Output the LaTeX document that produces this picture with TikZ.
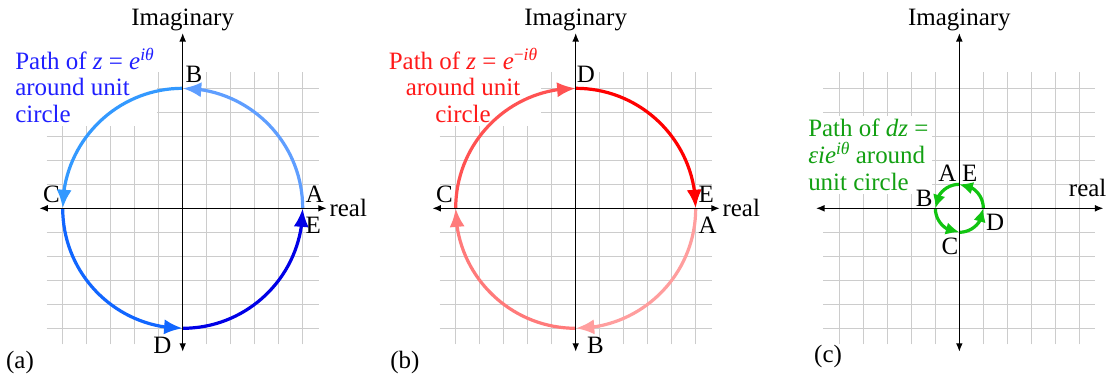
\documentclass[tikz,border=0pt]{standalone}
\usepackage{fontspec}
\setmainfont{Liberation Serif}
\usetikzlibrary{arrows.meta,bending}
\definecolor{gridC}{HTML}{CCCCCC}
\definecolor{bluA}{HTML}{5F9EFF}
\definecolor{bluB}{HTML}{3399FF}
\definecolor{bluC}{HTML}{1166FF}
\definecolor{bluD}{HTML}{0000E6}
\definecolor{bluT}{HTML}{2020FF}
\definecolor{redA}{HTML}{FF9E9E}
\definecolor{redB}{HTML}{FF7A7A}
\definecolor{redC}{HTML}{FF5252}
\definecolor{redD}{HTML}{FF0000}
\definecolor{redT}{HTML}{FF1A1A}
\definecolor{grnA}{HTML}{11C411}
\definecolor{grnT}{HTML}{12A012}
\newcommand\supit[1]{\raisebox{0.36em}{\fontsize{10.4}{10.4}\selectfont #1}}

\begin{document}
\begin{tikzpicture}[x=0.5cm, y=0.5cm, font={\fontsize{14.8}{14.8}\selectfont},
  lbl/.style={inner xsep=1.5pt, inner ysep=3pt},
  capbox/.style={fill=white, inner sep=2pt, font={\fontsize{14.8}{15.8}\selectfont}},
  pathline/.style={line width=1.9pt, -{Latex[length=11pt,width=9pt]}},
  smallpath/.style={line width=1.9pt, -{Latex[length=8pt,width=7.5pt]}},
  axisline/.style={line width=0.7pt, {Latex[length=5pt,width=4pt]}-{Latex[length=5pt,width=4pt]}}]
  \useasboundingbox (-7.6125,-7.1125) rectangle (38.596,8.679);

  % grids, one per panel
  \foreach \ox in {0,16.375,32.36}{
    \begin{scope}[xshift=\ox*0.5cm]
      \draw[gridC, line width=0.6pt, step=1] (-5.67,-5.67) grid (5.67,5.67);
    \end{scope}
  }

  % captions sit on white so the grid stops under them
  \node[capbox, text=bluT, align=left, anchor=north west] (capa) at (-7.13,6.84)
    {Path of \textit{z} = \textit{e}\supit{\textit{iθ}}\\around unit\\circle};
  \node[capbox, text=redT, align=center, anchor=north] (capb) at (11.68,6.84)
    {Path of \textit{z} = \textit{e}\supit{−\textit{iθ}}\\around unit\\circle};
  \node[capbox, text=grnT, align=left, anchor=north west] (capc) at (25.91,3.86)
    {Path of \textit{dz} =\\\textit{εie}\supit{\textit{iθ}} around\\unit circle};

  % (a) z = e^{i theta}, counter-clockwise
  \coordinate (aA) at (5,0);
  \coordinate (aB) at (0,5);
  \coordinate (aC) at (-5,0);
  \coordinate (aD) at (0,-5);
  \draw[pathline, bluA] (aA) arc[start angle=0, end angle=90, radius=5];
  \draw[pathline, bluB] (aB) arc[start angle=90, end angle=180, radius=5];
  \draw[pathline, bluC] (aC) arc[start angle=180, end angle=270, radius=5];
  \draw[pathline, bluD] (aD) arc[start angle=270, end angle=360, radius=5];

  % (b) z = e^{-i theta}, clockwise
  \coordinate (bA) at (21.375,0);
  \coordinate (bB) at (16.375,-5);
  \coordinate (bC) at (11.375,0);
  \coordinate (bD) at (16.375,5);
  \draw[pathline, redA] (bA) arc[start angle=0, end angle=-90, radius=5];
  \draw[pathline, redB] (bB) arc[start angle=-90, end angle=-180, radius=5];
  \draw[pathline, redC] (bC) arc[start angle=180, end angle=90, radius=5];
  \draw[pathline, redD] (bD) arc[start angle=90, end angle=0, radius=5];

  % (c) dz, small circle starting on top
  \coordinate (cA) at (32.36,1);
  \coordinate (cB) at (31.36,0);
  \coordinate (cC) at (32.36,-1);
  \coordinate (cD) at (33.36,0);
  \draw[smallpath, grnA] (cA) arc[start angle=90, end angle=180, radius=1];
  \draw[smallpath, grnA] (cB) arc[start angle=180, end angle=270, radius=1];
  \draw[smallpath, grnA] (cC) arc[start angle=270, end angle=360, radius=1];
  \draw[smallpath, grnA] (cD) arc[start angle=0, end angle=90, radius=1];

  % axes
  \foreach \ox/\p in {0/a,16.375/b,32.36/c}{
    \coordinate (xl\p) at (\ox-5.97,0);
    \coordinate (xr\p) at (\ox+6,0);
    \coordinate (yb\p) at (\ox,-5.975);
    \node[anchor=south, inner sep=1pt] (im\p) at (\ox,7.3) {Imaginary};
    \draw[axisline] (xl\p) -- (xr\p);
    \draw[axisline] (yb\p) -- (im\p.south);
  }
  \node[anchor=west, inner sep=1.5pt] (rea) at (xra) {real};
  \node[anchor=west, inner sep=1.5pt] (reb) at (xrb) {real};
  \node[anchor=base east, inner sep=0pt] (rec) at (38.5,0.483) {real};

  % point labels
  \node[lbl, anchor=south west] (laA) at (aA) {A};
  \node[lbl, anchor=south west] (laB) at (aB) {B};
  \node[lbl, anchor=south east] (laC) at (aC) {C};
  \node[lbl, anchor=north east, xshift=-5pt, yshift=-2pt] (laD) at (aD) {D};
  \node[lbl, anchor=north west, yshift=-2pt] (laE) at (aA) {E};

  \node[lbl, anchor=north west, yshift=-2pt] (lbA) at (bA) {A};
  \node[lbl, anchor=north west, xshift=5pt, yshift=-2pt] (lbB) at (bB) {B};
  \node[lbl, anchor=south east] (lbC) at (bC) {C};
  \node[lbl, anchor=south west, xshift=-1pt] (lbD) at (bD) {D};
  \node[lbl, anchor=south west] (lbE) at (bA) {E};

  \node[lbl, anchor=south east, yshift=-1.5pt] (lcA) at (cA) {A};
  \node[lbl, anchor=south east, yshift=-2pt] (lcB) at (cB) {B};
  \node[lbl, anchor=north east, xshift=1pt] (lcC) at (cC) {C};
  \node[lbl, anchor=north west] (lcD) at (cD) {D};
  \node[lbl, anchor=south west, yshift=-1.5pt] (lcE) at (cA) {E};

  % panel tags
  \node[anchor=base west, inner sep=0pt] (taga) at (-7.37,-6.675) {(a)};
  \node[anchor=base west, inner sep=0pt] (tagb) at (8.64,-6.675) {(b)};
  \node[anchor=base west, inner sep=0pt] (tagc) at (26.30,-6.425) {(c)};
\end{tikzpicture}
\end{document}
